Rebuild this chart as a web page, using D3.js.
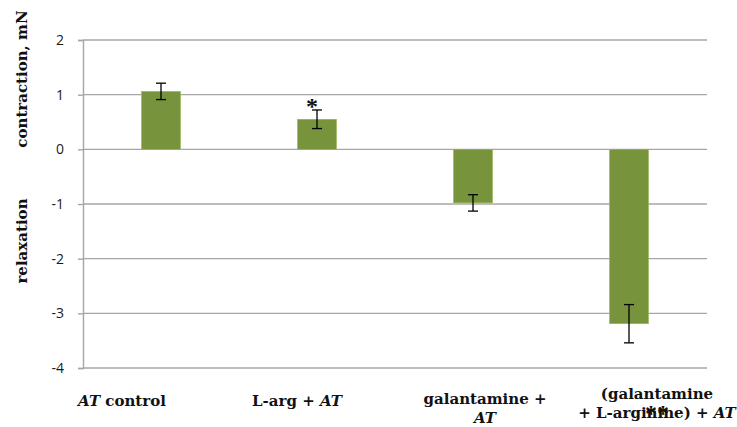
<!DOCTYPE html>
<html>
<head>
<meta charset="utf-8">
<script src="https://cdn.jsdelivr.net/npm/d3@7"></script>
<style>
  html, body { margin: 0; padding: 0; background: #fff; }
  svg { display: block; }
  .tick text { font-family: "Open Sans", sans-serif; font-size: 14px; fill: #1a1a1a; }
  .grid line { stroke: #a6a6a6; stroke-width: 1.4; }
  .cat { font-family: "DejaVu Serif", serif; font-weight: bold; font-size: 15px; fill: #111; }
  .ytitle { font-family: "DejaVu Serif", serif; font-weight: bold; font-size: 15px; fill: #111; }
  .star { font-family: "Liberation Serif", serif; font-weight: bold; font-size: 24px; fill: #111; }
</style>
</head>
<body>
<svg id="chart" width="737" height="427"></svg>
<script>
const categories = ["AT control", "L-arg + AT", "galantamine + AT", "(galantamine + L-arginine) + AT"];
const values = [1.06, 0.55, -0.98, -3.19];
const errors = [0.15, 0.17, 0.15, 0.35];
const yTicks = [2, 1, 0, -1, -2, -3, -4];
const stars = ["", "*", "", "**"];

// label lines: text parts, italic flagged
const labelLines = [
  [[["AT", true], [" control", false]]],
  [[["L-arg + ", false], ["AT", true]]],
  [[["galantamine +", false]], [["AT", true]]],
  [[["(galantamine", false]], [["+ L-arginine) + ", false], ["AT", true]]]
];
// hand-placed label nudges, as in the original
const labelDx = [-39, -20, 12, 28];
const labelBaseline = [406, 406, 404, 399];

const svg = d3.select("#chart");
const margin = { top: 40, right: 30, bottom: 59, left: 83 };
const width = 737, height = 427;

const x = d3.scaleBand()
  .domain(categories)
  .range([margin.left, width - margin.right])
  .paddingInner(0).paddingOuter(0);

const y = d3.scaleLinear()
  .domain([-4, 2])
  .range([height - margin.bottom, margin.top]);

// grid
svg.append("g")
  .attr("class", "grid")
  .selectAll("line")
  .data(yTicks)
  .join("line")
  .attr("x1", margin.left)
  .attr("x2", width - margin.right)
  .attr("y1", (d) => y(d))
  .attr("y2", (d) => y(d));

const axis = svg.append("g")
  .attr("transform", `translate(${margin.left},0)`)
  .call(d3.axisLeft(y).tickValues(yTicks).tickSize(5).tickPadding(14).tickFormat(d3.format("d")));
axis.select(".domain").attr("stroke", "#a6a6a6").attr("stroke-width", 1.4);
axis.selectAll(".tick line").attr("stroke", "#a6a6a6").attr("stroke-width", 1.4);
axis.selectAll(".tick text").text((d) => (d < 0 ? "-" + Math.abs(d) : d));

const barW = x.bandwidth() * 0.25;

svg.append("g")
  .selectAll("rect")
  .data(categories)
  .join("rect")
  .attr("x", (c) => x(c) + (x.bandwidth() - barW) / 2)
  .attr("width", barW)
  .attr("y", (c, i) => y(Math.max(0, values[i])))
  .attr("height", (c, i) => Math.abs(y(values[i]) - y(0)))
  .attr("fill", "#77933c")
  .attr("stroke", "#9bbb59")
  .attr("stroke-width", 0.6);

// error bars
const eb = svg.append("g")
  .attr("stroke", "#000")
  .attr("stroke-width", 1.3)
  .selectAll("g")
  .data(categories)
  .join("g")
  .attr("transform", (c) => `translate(${x(c) + x.bandwidth() / 2},0)`);

eb.append("line")
  .attr("y1", (c, i) => y(values[i] + errors[i]))
  .attr("y2", (c, i) => y(values[i] - errors[i]));
eb.append("line")
  .attr("x1", -5).attr("x2", 5)
  .attr("y1", (c, i) => y(values[i] + errors[i]))
  .attr("y2", (c, i) => y(values[i] + errors[i]));
eb.append("line")
  .attr("x1", -5).attr("x2", 5)
  .attr("y1", (c, i) => y(values[i] - errors[i]))
  .attr("y2", (c, i) => y(values[i] - errors[i]));

// category labels
categories.forEach((c, i) => {
  const cx = x(c) + x.bandwidth() / 2 + labelDx[i];
  labelLines[i].forEach((parts, li) => {
    const t = svg.append("text")
      .attr("class", "cat")
      .attr("x", cx)
      .attr("y", labelBaseline[i] + li * 19)
      .attr("text-anchor", "middle");
    parts.forEach(([s, it]) => {
      t.append("tspan").attr("font-style", it ? "italic" : "normal").text(s);
    });
  });
});

// significance stars
svg.append("text")
  .attr("class", "star")
  .attr("x", x(categories[1]) + x.bandwidth() / 2 - 5)
  .attr("y", y(values[1] + errors[1]) + 4)
  .attr("text-anchor", "middle")
  .text(stars[1]);

svg.append("text")
  .attr("class", "star")
  .attr("x", x(categories[3]) + x.bandwidth() / 2 + 28)
  .attr("y", 421)
  .attr("text-anchor", "middle")
  .text(stars[3]);

// y axis titles
svg.append("text")
  .attr("class", "ytitle")
  .attr("transform", "translate(27,79) rotate(-90)")
  .attr("text-anchor", "middle")
  .text("contraction, mN");

svg.append("text")
  .attr("class", "ytitle")
  .attr("transform", "translate(27,241) rotate(-90)")
  .attr("text-anchor", "middle")
  .text("relaxation");
</script>
</body>
</html>
